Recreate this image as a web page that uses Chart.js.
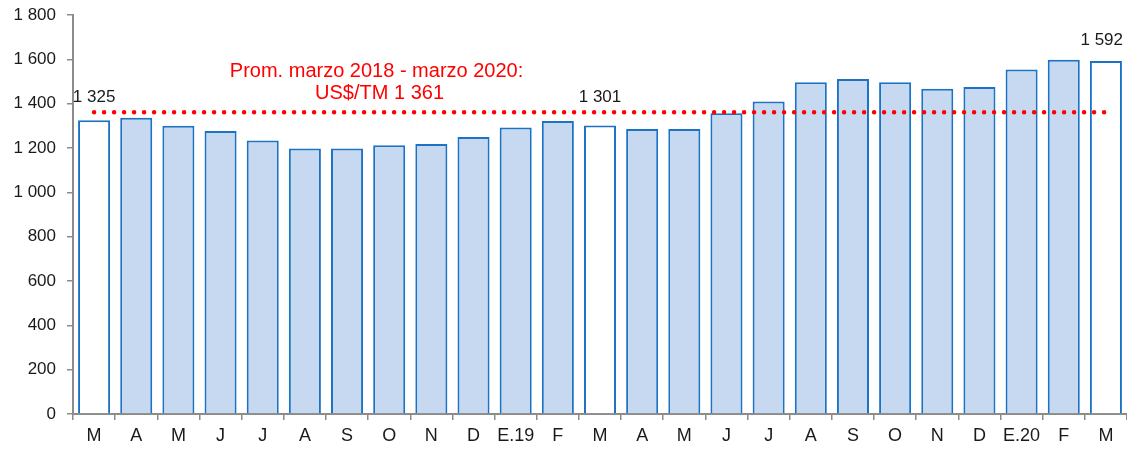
<!DOCTYPE html>
<html lang="es">
<head>
  <meta charset="UTF-8" />
  <title>Precio del cobre</title>
  <style>
    html, body { margin: 0; padding: 0; background: #fff; }
    #wrap { width: 1127px; height: 449px; }
  </style>
</head>
<body>
  <div id="wrap"><canvas id="grafico" width="1127" height="449"></canvas></div>

  <script src="https://cdn.jsdelivr.net/npm/chart.js"></script>
  <script>
    // Datos (US$/TM), marzo 2018 - marzo 2020
    const meses = ['M', 'A', 'M', 'J', 'J', 'A', 'S', 'O', 'N', 'D', 'E.19', 'F',
                   'M', 'A', 'M', 'J', 'J', 'A', 'S', 'O', 'N', 'D', 'E.20', 'F', 'M'];
    const precios = [1325, 1337, 1300, 1277, 1234, 1198, 1198, 1212, 1218, 1250, 1293, 1322,
                     1301, 1286, 1286, 1357, 1410, 1497, 1511, 1497, 1467, 1475, 1554, 1598, 1592];
    const promedio = 1361;
    const destacados = [0, 12, 24];   // barras blancas con etiqueta
    const textoPromedio = ['Prom. marzo 2018 - marzo 2020:', 'US$/TM 1 361'];

    const azul = '#1C72C4';
    const celeste = '#C6D9F0';
    const gris = '#8C8C8C';

    function miles(v) {
      return String(v).replace(/\B(?=(\d{3})+(?!\d))/g, ' ');
    }

    // Etiquetas de las barras blancas y texto del promedio
    const etiquetas = {
      id: 'etiquetas',
      afterDatasetsDraw(chart) {
        const ctx = chart.ctx;
        const meta = chart.getDatasetMeta(1);
        const yLinea = chart.scales.y.getPixelForValue(promedio);
        ctx.save();
        ctx.font = '17px "Liberation Sans", Arial, sans-serif';
        ctx.fillStyle = '#1a1a1a';
        ctx.textAlign = 'center';
        ctx.textBaseline = 'bottom';
        destacados.forEach(i => {
          const bar = meta.data[i];
          const txt = miles(precios[i]);
          const w = ctx.measureText(txt).width;
          let x = bar.x;
          if (x + w / 2 > chart.width - 4) x = chart.width - 4 - w / 2;
          // por encima de la barra y sin tapar la línea punteada
          const y = Math.min(bar.y - 12, yLinea - 6);
          ctx.fillText(txt, x, y);
        });

        ctx.font = '20px "Liberation Sans", Arial, sans-serif';
        ctx.fillStyle = '#FF0000';
        ctx.textBaseline = 'middle';
        const cx = chart.scales.x.getPixelForValue(6.7);
        ctx.fillText(textoPromedio[0], cx, 71);
        ctx.fillText(textoPromedio[1], cx + 3, 93);
        ctx.restore();
      }
    };

    new Chart(document.getElementById('grafico'), {
      type: 'bar',
      data: {
        labels: meses,
        datasets: [
          {
            type: 'line',
            data: meses.map(() => promedio),
            borderColor: '#FF0000',
            borderWidth: 4.5,
            borderDash: [0, 10],
            borderCapStyle: 'round',
            pointRadius: 0,
            fill: false,
            order: 0
          },
          {
            data: precios,
            backgroundColor: precios.map((v, i) => destacados.includes(i) ? '#FFFFFF' : celeste),
            borderColor: azul,
            borderWidth: 2,
            barPercentage: 0.76,
            categoryPercentage: 1,
            order: 1
          }
        ]
      },
      options: {
        responsive: false,
        animation: false,
        layout: { padding: { top: 15, right: 0, left: 0, bottom: 0 } },
        plugins: {
          legend: { display: false },
          tooltip: { enabled: false }
        },
        scales: {
          x: {
            grid: { display: true, drawOnChartArea: false, drawTicks: true, tickLength: 6, color: gris, lineWidth: 1.5 },
            border: { display: true, color: gris, width: 2 },
            ticks: { color: '#1a1a1a', font: { family: '"Liberation Sans", Arial, sans-serif', size: 18 }, padding: 5, maxRotation: 0, autoSkip: false },
            afterFit(scale) { scale.height = 35; }
          },
          y: {
            min: 0,
            max: 1800,
            grid: { display: true, drawOnChartArea: false, drawTicks: true, tickLength: 6, color: gris, lineWidth: 1.5 },
            border: { display: true, color: gris, width: 2 },
            ticks: {
              stepSize: 200,
              color: '#1a1a1a',
              font: { family: '"Liberation Sans", Arial, sans-serif', size: 17 },
              padding: 11,
              callback: v => miles(v)
            },
            afterFit(scale) {
              scale.width = 73;
              scale.paddingTop = 0;
              scale.paddingBottom = 0;
            }
          }
        }
      },
      plugins: [etiquetas]
    });
  </script>
</body>
</html>
